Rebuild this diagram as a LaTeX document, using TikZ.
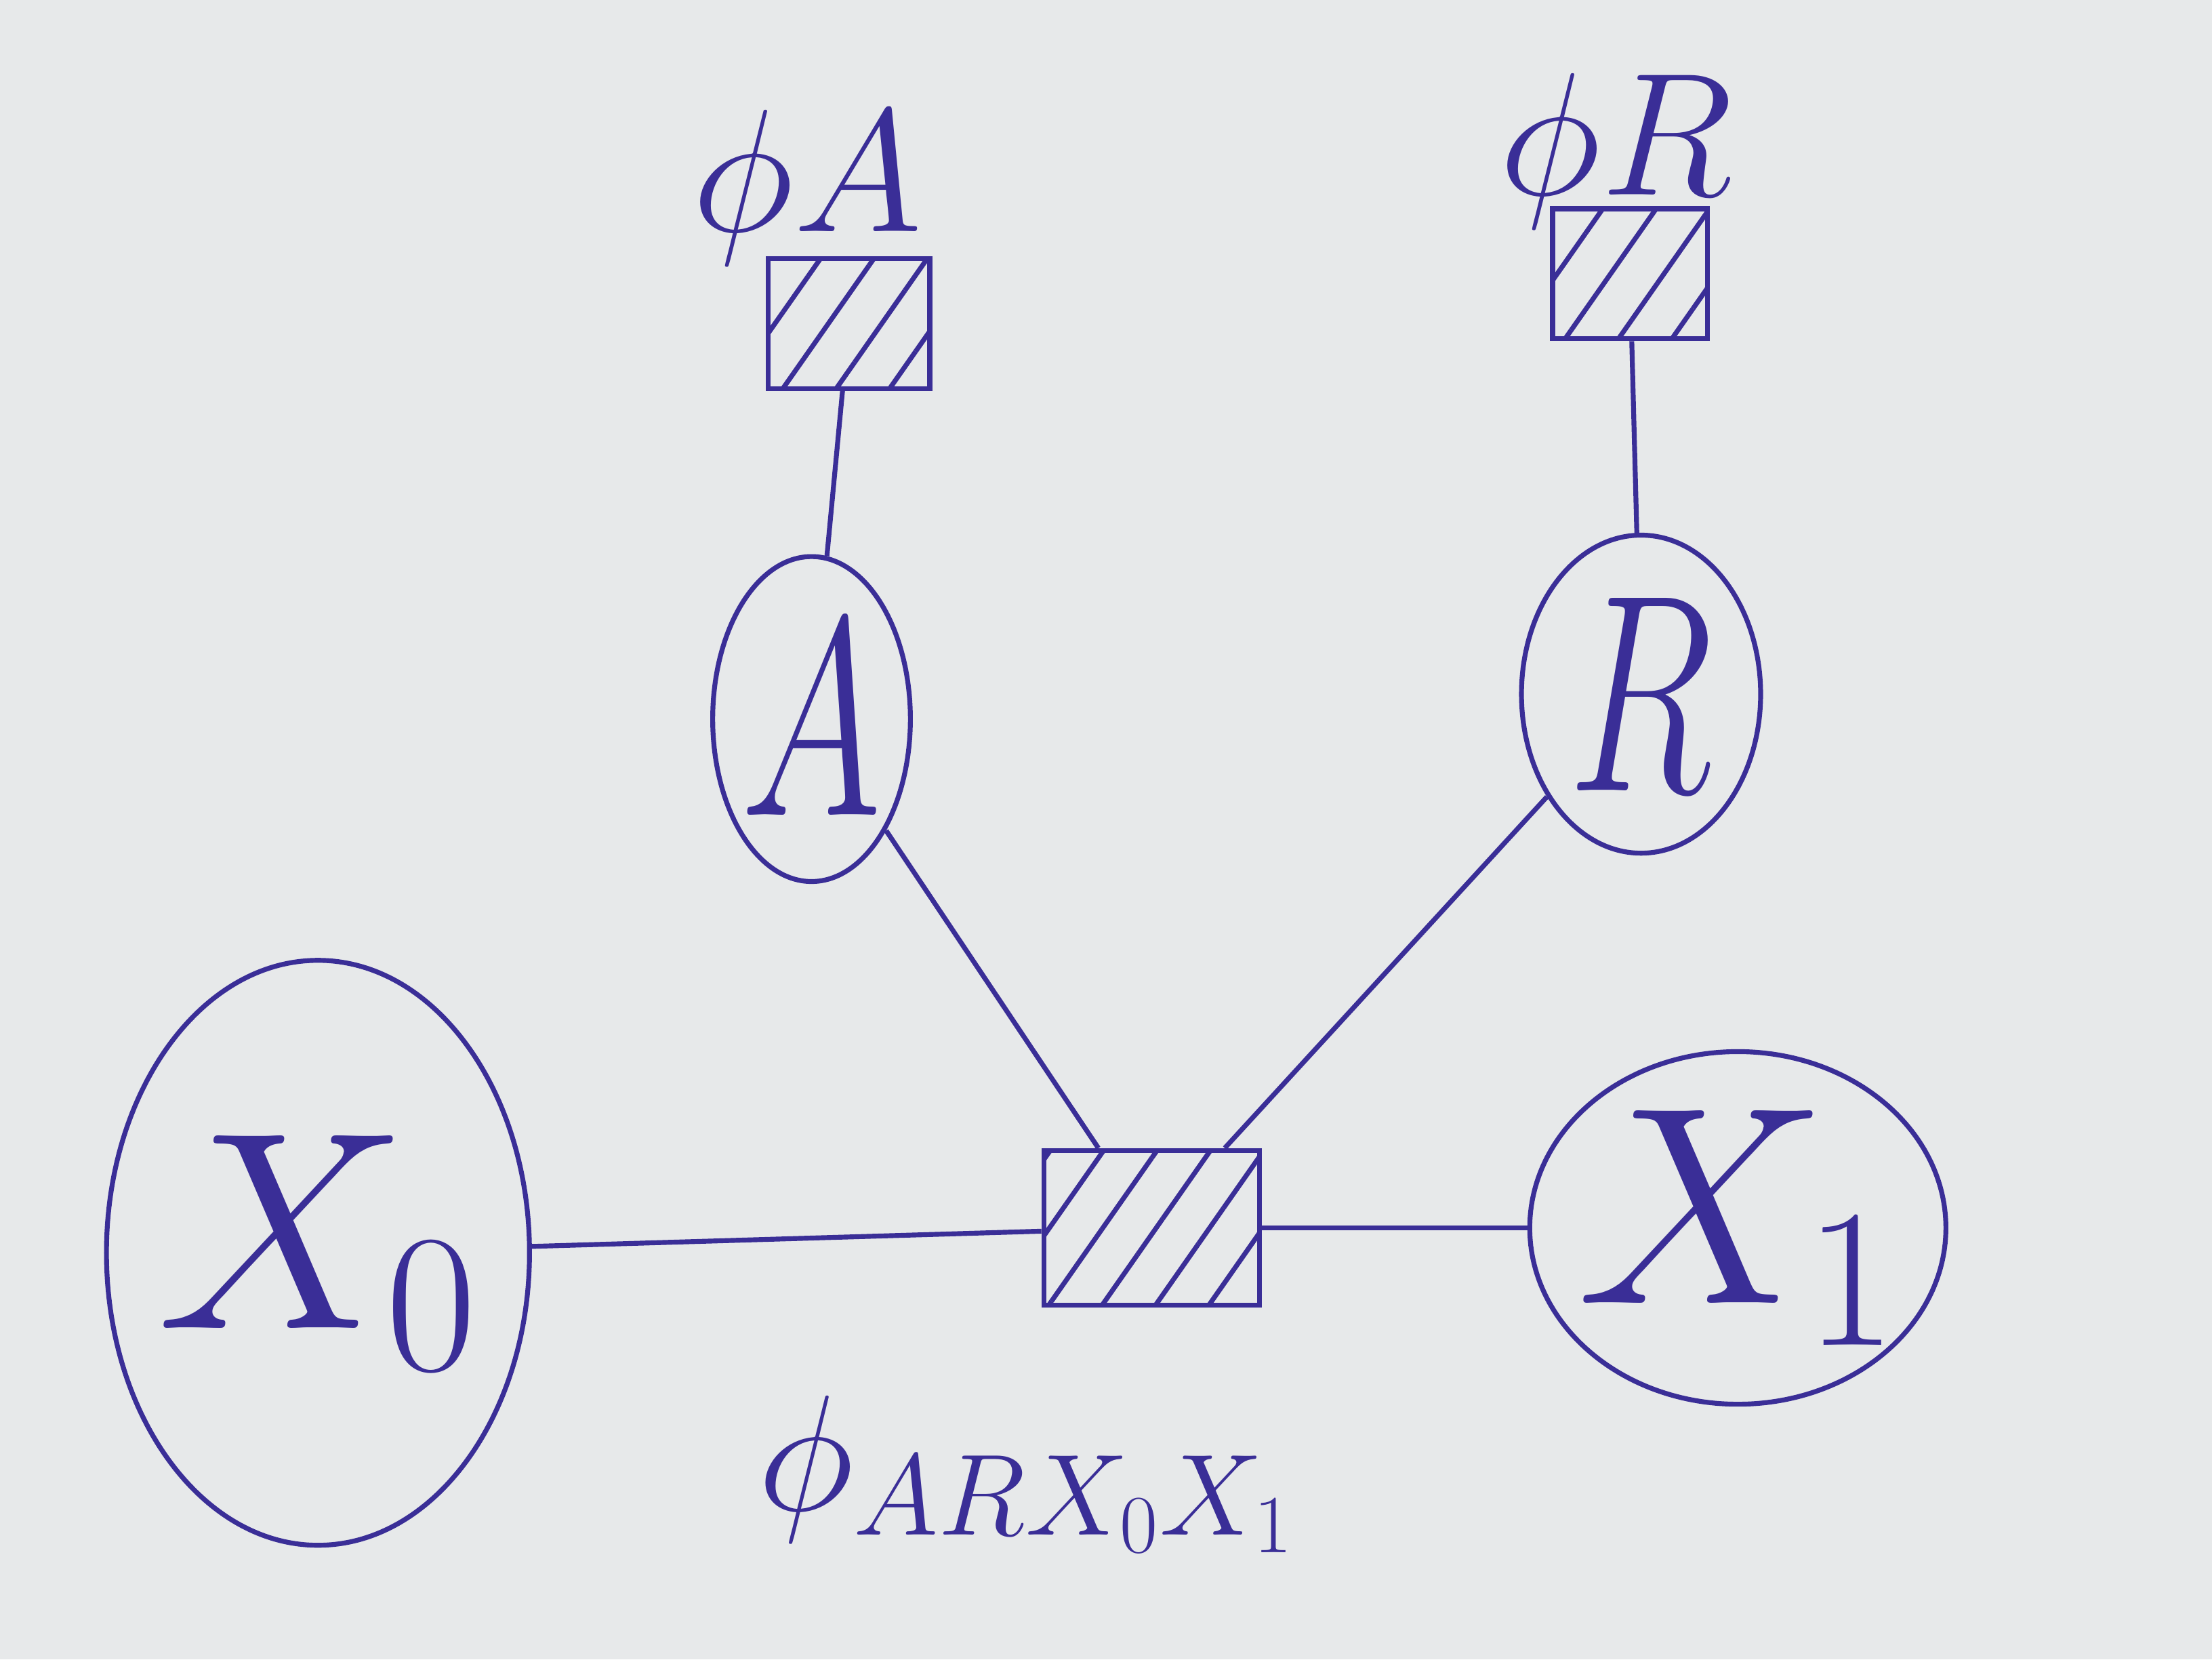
\documentclass[tikz,border=0pt]{standalone}
\usepackage{fix-cm}
\usepackage{graphicx}
\usepackage{tikz}
\usetikzlibrary{shapes.geometric}
\usetikzlibrary{patterns.meta}
\definecolor{ink}{HTML}{3A2E97}
\definecolor{paper}{HTML}{E7E9EA}
\newcommand{\narrowtext}[1]{\scalebox{0.68}[1]{#1}}

\begin{document}
\begin{tikzpicture}[
	line width=1pt,
	var/.style={
		ellipse,draw=ink,
		inner sep=0pt,
	},
	vtext/.style={
		text=ink,
		font=\fontsize{58}{58}\selectfont,
	},
	factor/.style={
		rectangle,draw=ink,
		inner sep=0pt,
		pattern={Lines[angle=55,distance=9pt,line width=1pt]},
		pattern color=ink,
	},
	flabel/.style={
		text=ink,
		font=\fontsize{36}{36}\selectfont,
	},
	link/.style={draw=ink}
]
\fill[paper] (0,0) rectangle (16,12);
\useasboundingbox (0,0) rectangle (16,12);

\node [factor,minimum width=1.17cm,minimum height=0.94cm,
	label={[flabel,xshift=-3mm,label distance=-2mm]above:$\phi A$}] (fA) at (6.14,9.66) {};
\node [factor,minimum width=1.12cm,minimum height=0.94cm,
	label={[flabel,xshift=-1mm,label distance=-3mm]above:$\phi R$}] (fR) at (11.79,10.02) {};
\node [factor,minimum width=1.56cm,minimum height=1.12cm,
	label={[flabel,font=\fontsize{34}{34}\selectfont,xshift=-9mm,label distance=5mm]below:$\phi_{ARX_0X_1}$}] (fARX) at (8.33,3.12) {};

\node [var,minimum width=1.43cm,minimum height=2.35cm,label={[vtext]center:\narrowtext{$A$}}] (A) at (5.87,6.80) {};
\node [var,minimum width=1.73cm,minimum height=2.30cm,label={[vtext]center:\narrowtext{$R$}}] (R) at (11.87,6.98) {};
\node [var,minimum width=3.06cm,minimum height=4.23cm,label={[vtext]center:$X_0$}] (X0) at (2.30,2.94) {};
\node [var,minimum width=3.01cm,minimum height=2.55cm,label={[vtext]center:$X_1$}] (X1) at (12.57,3.12) {};

\draw [link] (fA) -- (A);
\draw [link] (fR) -- (R);
\draw [link] (A) -- (fARX);
\draw [link] (R) -- (fARX);
\draw [link] (X0) -- (fARX);
\draw [link] (fARX) -- (X1);
\end{tikzpicture}
\end{document}
